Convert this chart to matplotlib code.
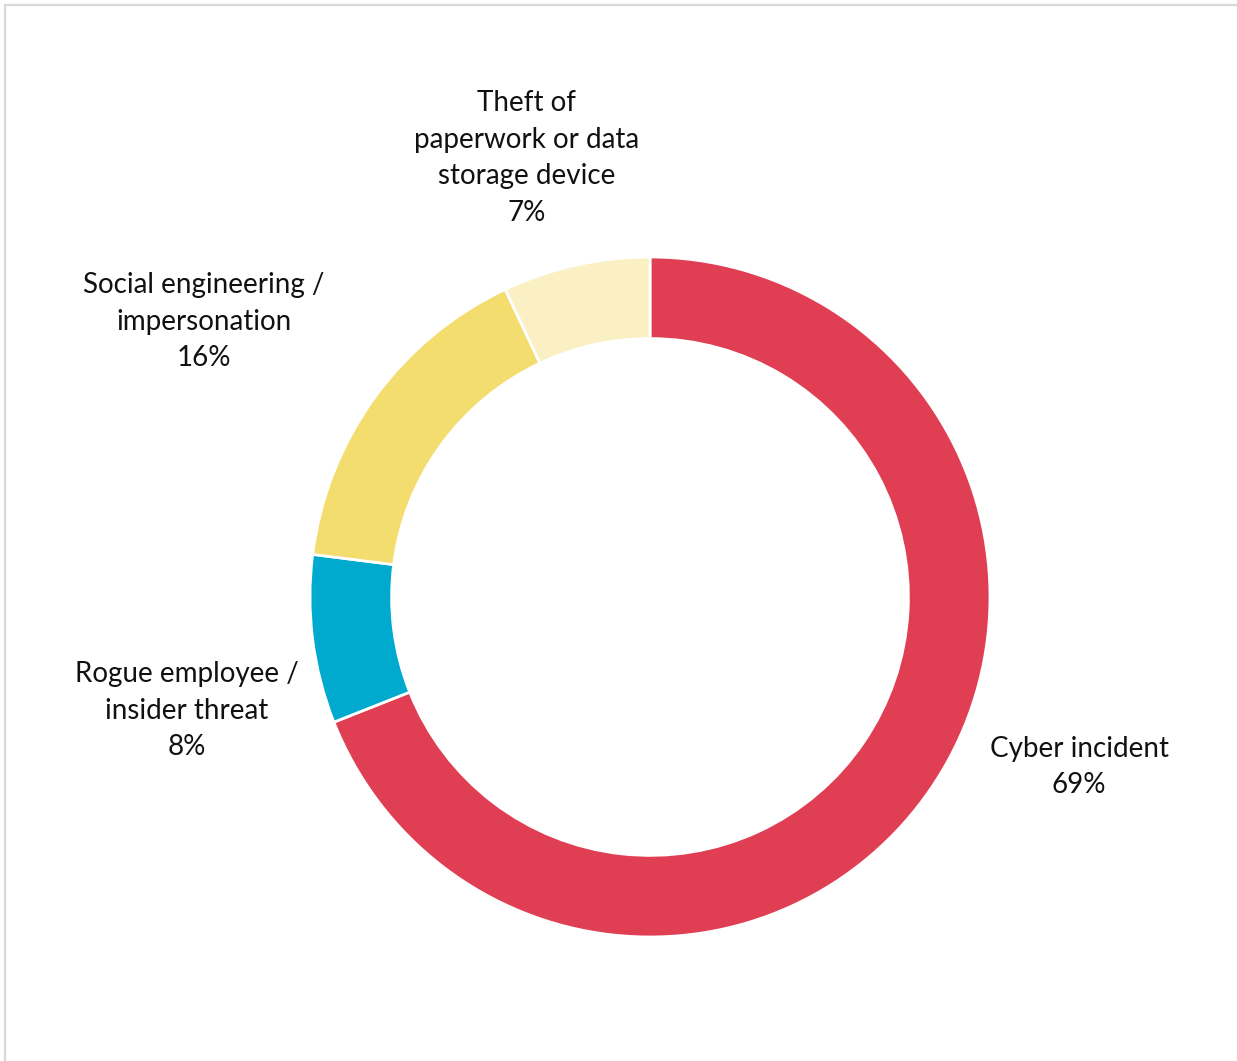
import matplotlib.pyplot as plt
from matplotlib.patches import Rectangle

plt.rcParams['font.family'] = ['Lato', 'DejaVu Sans']

labels = ['Cyber incident', 'Rogue employee /\ninsider threat',
          'Social engineering /\nimpersonation', 'Theft of\npaperwork or data\nstorage device']
values = [69, 8, 16, 7]
colors = ['#E03E52', '#00AACE', '#F3DD6E', '#FAF0C3']
# label anchor positions in units of the outer radius
label_pos = [(1.262, -0.50), (-1.362, -0.335), (-1.312, 0.809), (-0.362, 1.291)]

fig = plt.figure(figsize=(12.37, 10.61), dpi=100)
ax = fig.add_axes([0, 0, 1, 1])

ax.pie(values, colors=colors, startangle=90, counterclock=False, radius=1,
       wedgeprops=dict(width=0.24, edgecolor='white', linewidth=2))

for lab, val, (x, y) in zip(labels, values, label_pos):
    ax.text(x, y, f'{lab}\n{val}%', ha='center', va='center', fontsize=20,
            color='#111111', linespacing=1.5)

ax.set_xlim(-650 / 340, (1237 - 650) / 340)
ax.set_ylim((597 - 1061) / 340, 597 / 340)
ax.set_aspect('equal')
ax.axis('off')

# light frame, only left and top edges visible in the crop
fig.patches.append(Rectangle((4.5 / 1237, -0.1), 1.2, 1.1 - 5.5 / 1061,
                             transform=fig.transFigure, fill=False,
                             edgecolor='#D9D9D9', linewidth=1.6))

fig.savefig('out.png', dpi=100, facecolor='white')
